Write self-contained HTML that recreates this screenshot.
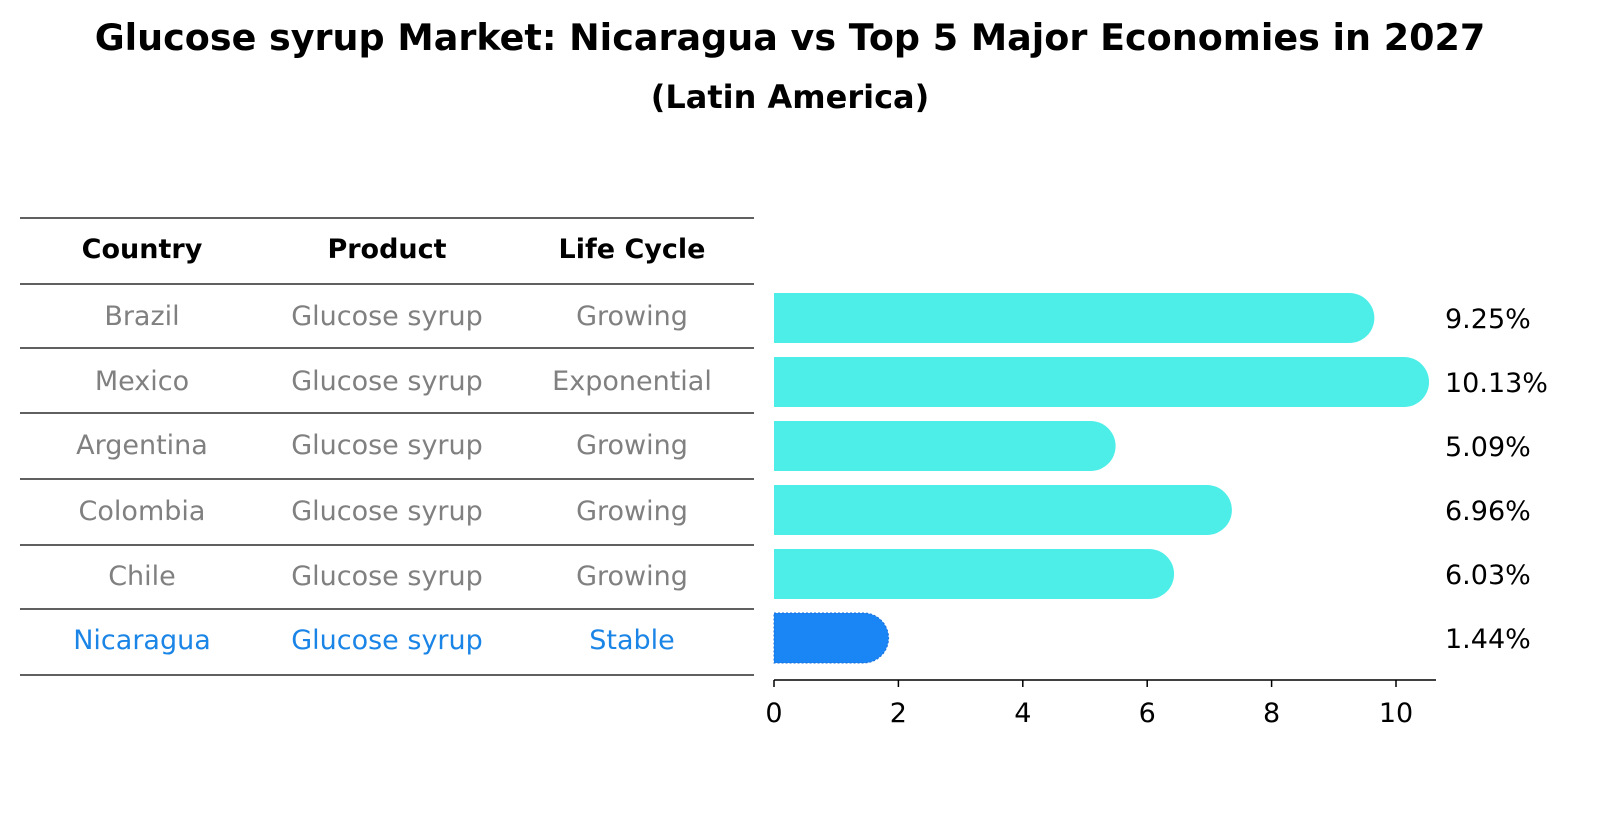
<!DOCTYPE html>
<html><head><meta charset="utf-8"><style>
body{margin:0;background:#fff;width:1604px;height:823px;overflow:hidden;font-family:"Liberation Sans","DejaVu Sans",sans-serif}
</style></head><body>
<svg id="chart" width="1604" height="823" xmlns="http://www.w3.org/2000/svg" font-family="DejaVu Sans, Liberation Sans, sans-serif">
<text x="790" y="50" text-anchor="middle" font-size="36.5" font-weight="bold">Glucose syrup Market: Nicaragua vs Top 5 Major Economies in 2027</text>
<text x="790" y="108" text-anchor="middle" font-size="32" font-weight="bold">(Latin America)</text>
<g id="table"></g>
<g id="bars"></g>
</svg>
<script>
const countries=["Brazil","Mexico","Argentina","Colombia","Chile","Nicaragua"];
const products=["Glucose syrup","Glucose syrup","Glucose syrup","Glucose syrup","Glucose syrup","Glucose syrup"];
const lifeCycles=["Growing","Exponential","Growing","Growing","Growing","Stable"];
const values=[9.25,10.13,5.09,6.96,6.03,1.44];
const valueLabels=["9.25%","10.13%","5.09%","6.96%","6.03%","1.44%"];
const xTicks=[0,2,4,6,8,10];
const NS="http://www.w3.org/2000/svg";
function mk(tag,attrs,parent,txt){const e=document.createElementNS(NS,tag);for(const k in attrs)e.setAttribute(k,attrs[k]);if(txt!==undefined)e.textContent=txt;parent.appendChild(e);return e;}
const xS=v=>774+v*62.2;
const rowY=i=>318+i*64;
const tb=document.getElementById('table');
const lines=[218,284,348,413,479,545,609,675];
lines.forEach((y,i)=>{const l=mk('line',{x1:20,x2:754,y1:y,y2:y,stroke:'#000','stroke-width':1.3},tb);

});
const colX=[142,387,632];
["Country","Product","Life Cycle"].forEach((h,j)=>{const t=mk('text',{x:colX[j],y:258,'text-anchor':'middle','font-size':27,'font-weight':'bold'},tb,h);

});
const rowCY=[316,381,445,511,576,640];
countries.forEach((c,i)=>{const col=i===countries.length-1?'#1a85e6':'#808080';
[c,products[i],lifeCycles[i]].forEach((v,j)=>{const t=mk('text',{x:colX[j],y:rowCY[i]+9,'text-anchor':'middle','font-size':27,fill:col},tb,v);

});});
const g=document.getElementById('bars');
values.forEach((v,i)=>{const last=i===values.length-1;const y=rowY(i),r=25;const x0=xS(0),x1=xS(v);
const d=`M${x0},${y-r} H${x1} A${r},${r} 0 0 1 ${x1},${y+r} H${x0} Z`;
const p=mk('path',{d:d,fill:last?'#1a85f5':'#4deee8',stroke:last?'#1a6fd8':'none','stroke-dasharray':last?'2,2':'none'},g);


const t=mk('text',{x:1445,y:y+10,'font-size':27},g,valueLabels[i]);

});
const ax=mk('line',{x1:774,x2:1436,y1:680,y2:680,stroke:'#000','stroke-width':1.5},g);


xTicks.forEach(v=>{const tk=mk('line',{x1:xS(v),x2:xS(v),y1:680,y2:687,stroke:'#000','stroke-width':1.5},g);


const t=mk('text',{x:xS(v),y:722,'text-anchor':'middle','font-size':27},g,String(v));

});
</script>
</body></html>
